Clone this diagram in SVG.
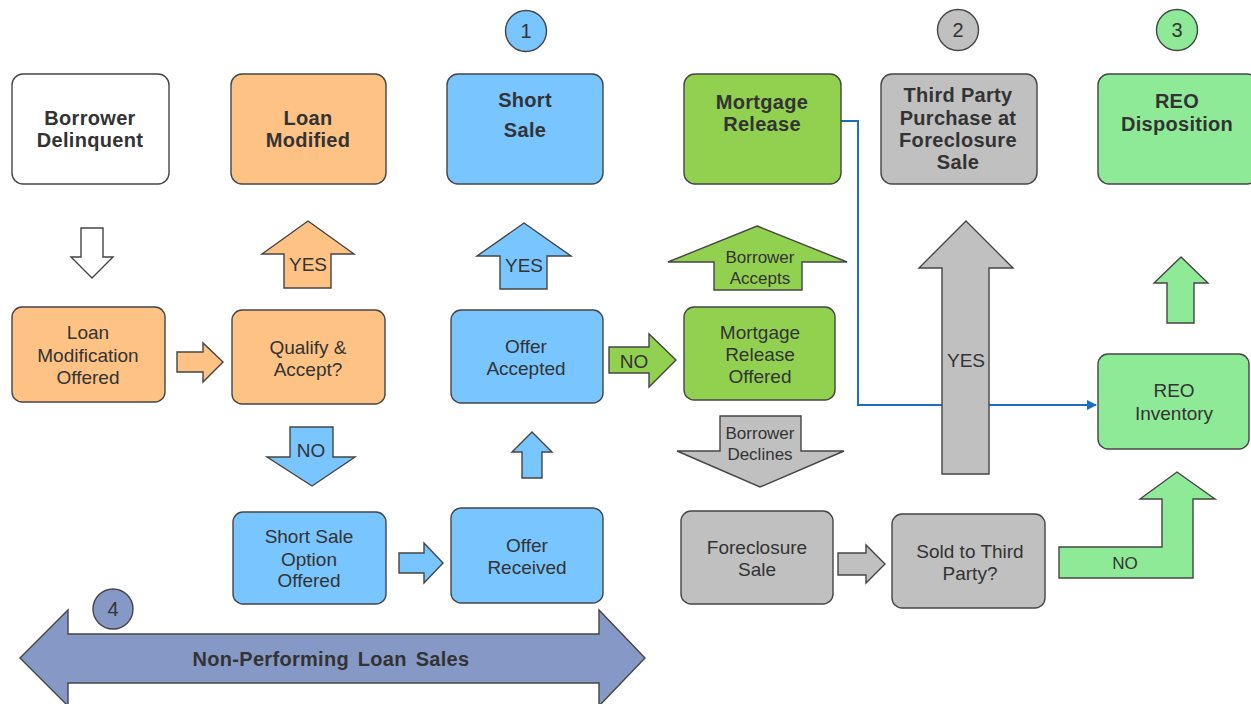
<svg xmlns="http://www.w3.org/2000/svg" width="1251" height="704" viewBox="0 0 1251 704">
  <defs>
    <style>
      .box { stroke: #454545; stroke-width: 1.4; }
      .arr { stroke: #454545; stroke-width: 1.4; stroke-linejoin: miter; }
      .orange { fill: #FFC285; }
      .blue { fill: #79C5FF; }
      .green { fill: #92D050; }
      .lgreen { fill: #8FEA97; }
      .gray { fill: #C0C0C0; }
      .slate { fill: #8699C6; }
      .white { fill: #FFFFFF; }
      text { font-family: "Liberation Sans", Arial, sans-serif; fill: #333333; text-anchor: middle; }
      .t { font-size: 19px; }
      .tb { font-size: 20px; font-weight: bold; letter-spacing: 0.3px; }
      .ts { font-size: 17px; }
      .num { font-size: 20px; }
    </style>
    <marker id="tip" viewBox="0 0 10 10" refX="9" refY="5" markerWidth="5" markerHeight="5" orient="auto">
      <path d="M0,0 L10,5 L0,10 z" fill="#1E6EC0"/>
    </marker>
  </defs>
  <rect width="1251" height="704" fill="#FFFFFF"/>

  <!-- connectors: elbow line and block arrows -->
  <g id="connectors">
    <path d="M841,121 H858 V405 H1096" fill="none" stroke="#1E6EC0" stroke-width="2" marker-end="url(#tip)"/>
    <!-- delinquent -> modification offered -->
    <polygon class="arr white" points="81,228 103,228 103,257 113,257 92,278 71,257 81,257"/>
    <!-- modification offered -> qualify -->
    <polygon class="arr orange" points="177,352 203,352 203,343 223,362 203,382 203,372 177,372"/>
    <!-- qualify -> loan modified (YES) -->
    <polygon class="arr orange" points="308,221 354,254 331,254 331,288 284,288 284,254 262,254"/>
    <text class="t" x="308" y="271">YES</text>
    <!-- qualify -> short sale option (NO) -->
    <polygon class="arr blue" points="290,427 333,427 333,457 355,457 312,486 267,457 290,457"/>
    <text class="t" x="311" y="457">NO</text>
    <!-- short sale option -> offer received -->
    <polygon class="arr blue" points="399,553 424,553 424,543 443,563 424,583 424,573 399,573"/>
    <!-- offer received -> offer accepted -->
    <polygon class="arr blue" points="532,432 552,452 542,452 542,478 522,478 522,452 512,452"/>
    <!-- offer accepted -> short sale (YES) -->
    <polygon class="arr blue" points="524,223 571,256 547,256 547,289 500,289 500,256 477,256"/>
    <text class="t" x="524" y="272">YES</text>
    <!-- offer accepted -> mortgage release offered (NO) -->
    <polygon class="arr green" points="609,347 649,347 649,334 676,360 649,387 649,373 609,373"/>
    <text class="t" x="634" y="368">NO</text>
    <!-- borrower accepts -->
    <polygon class="arr green" points="757,226 847,262 802,262 802,290 714,290 714,262 668,262"/>
    <text class="ts" x="760" y="263">Borrower</text>
    <text class="ts" x="760" y="284">Accepts</text>
    <!-- borrower declines -->
    <polygon class="arr gray" points="720,416 801,416 801,451 844,451 760,487 677,451 720,451"/>
    <text class="ts" x="760" y="439">Borrower</text>
    <text class="ts" x="760" y="460">Declines</text>
    <!-- foreclosure sale -> sold to third party -->
    <polygon class="arr gray" points="838,553 866,553 866,545 885,564 866,583 866,575 838,575"/>
    <!-- sold (YES) -> third party purchase -->
    <polygon class="arr gray" points="966,221 1013,268 989,268 989,474 942,474 942,268 919,268"/>
    <text class="t" x="966" y="367">YES</text>
    <!-- sold (NO) -> REO inventory -->
    <polygon class="arr lgreen" points="1059,547 1162,547 1162,499 1140,499 1177,472 1215,499 1193,499 1193,578 1059,578"/>
    <text class="ts" x="1125" y="569">NO</text>
    <!-- REO inventory -> REO disposition -->
    <polygon class="arr lgreen" points="1181,257 1208,283 1194,283 1194,323 1167,323 1167,283 1154,283"/>
    <!-- non-performing loan sales band -->
    <polygon class="arr slate" points="20,658 68,610 68,634 599,634 599,610 645,658 599,706 599,683 68,683 68,706"/>
    <text class="tb" x="331" y="666" style="word-spacing:3px">Non-Performing Loan Sales</text>
  </g>

  <g id="borrower-delinquent">
    <rect class="box white" x="12" y="74" width="157" height="110" rx="11"/>
    <text class="tb" x="90" y="125">Borrower</text>
    <text class="tb" x="90" y="147">Delinquent</text>
  </g>
  <g id="loan-modified">
    <rect class="box orange" x="231" y="74" width="155" height="110" rx="11"/>
    <text class="tb" x="308" y="125">Loan</text>
    <text class="tb" x="308" y="147">Modified</text>
  </g>
  <g id="short-sale">
    <rect class="box blue" x="447" y="74" width="156" height="110" rx="11"/>
    <text class="tb" x="525" y="107">Short</text>
    <text class="tb" x="525" y="137">Sale</text>
  </g>
  <g id="mortgage-release">
    <rect class="box green" x="684" y="74" width="157" height="110" rx="11"/>
    <text class="tb" x="762" y="109">Mortgage</text>
    <text class="tb" x="762" y="131">Release</text>
  </g>
  <g id="third-party-purchase">
    <rect class="box gray" x="881" y="74" width="156" height="110" rx="11"/>
    <text class="tb" x="958" y="102">Third Party</text>
    <text class="tb" x="958" y="125">Purchase at</text>
    <text class="tb" x="958" y="147">Foreclosure</text>
    <text class="tb" x="958" y="169">Sale</text>
  </g>
  <g id="reo-disposition">
    <rect class="box lgreen" x="1098" y="74" width="160" height="110" rx="11"/>
    <text class="tb" x="1177" y="108">REO</text>
    <text class="tb" x="1177" y="131">Disposition</text>
  </g>

  <g id="loan-modification-offered">
    <rect class="box orange" x="12" y="307" width="153" height="95" rx="10"/>
    <text class="t" x="88" y="339">Loan</text>
    <text class="t" x="88" y="362">Modification</text>
    <text class="t" x="88" y="384">Offered</text>
  </g>
  <g id="qualify-accept">
    <rect class="box orange" x="232" y="310" width="153" height="94" rx="10"/>
    <text class="t" x="308" y="354">Qualify &amp;</text>
    <text class="t" x="308" y="376">Accept?</text>
  </g>
  <g id="offer-accepted">
    <rect class="box blue" x="451" y="310" width="152" height="93" rx="10"/>
    <text class="t" x="526" y="353">Offer</text>
    <text class="t" x="526" y="375">Accepted</text>
  </g>
  <g id="mortgage-release-offered">
    <rect class="box green" x="684" y="307" width="151" height="93" rx="10"/>
    <text class="t" x="760" y="339">Mortgage</text>
    <text class="t" x="760" y="361">Release</text>
    <text class="t" x="760" y="383">Offered</text>
  </g>
  <g id="reo-inventory">
    <rect class="box lgreen" x="1098" y="354" width="151" height="95" rx="10"/>
    <text class="t" x="1174" y="397">REO</text>
    <text class="t" x="1174" y="420">Inventory</text>
  </g>

  <g id="short-sale-option-offered">
    <rect class="box blue" x="233" y="512" width="153" height="92" rx="10"/>
    <text class="t" x="309" y="543">Short Sale</text>
    <text class="t" x="309" y="566">Option</text>
    <text class="t" x="309" y="587">Offered</text>
  </g>
  <g id="offer-received">
    <rect class="box blue" x="451" y="508" width="152" height="95" rx="10"/>
    <text class="t" x="527" y="552">Offer</text>
    <text class="t" x="527" y="574">Received</text>
  </g>
  <g id="foreclosure-sale">
    <rect class="box gray" x="681" y="511" width="152" height="93" rx="10"/>
    <text class="t" x="757" y="554">Foreclosure</text>
    <text class="t" x="757" y="576">Sale</text>
  </g>
  <g id="sold-to-third-party">
    <rect class="box gray" x="892" y="514" width="153" height="94" rx="10"/>
    <text class="t" x="970" y="558">Sold to Third</text>
    <text class="t" x="970" y="580">Party?</text>
  </g>

  <g id="marker-1">
    <circle class="box blue" cx="526" cy="31" r="20.5"/>
    <text class="num" x="526" y="38">1</text>
  </g>
  <g id="marker-2">
    <circle class="box gray" cx="958" cy="30" r="20.5"/>
    <text class="num" x="958" y="37">2</text>
  </g>
  <g id="marker-3">
    <circle class="box lgreen" cx="1177" cy="30" r="20.5"/>
    <text class="num" x="1177" y="37">3</text>
  </g>
  <g id="marker-4">
    <circle class="box slate" cx="113" cy="609" r="20"/>
    <text class="num" x="113" y="616">4</text>
  </g>
</svg>
